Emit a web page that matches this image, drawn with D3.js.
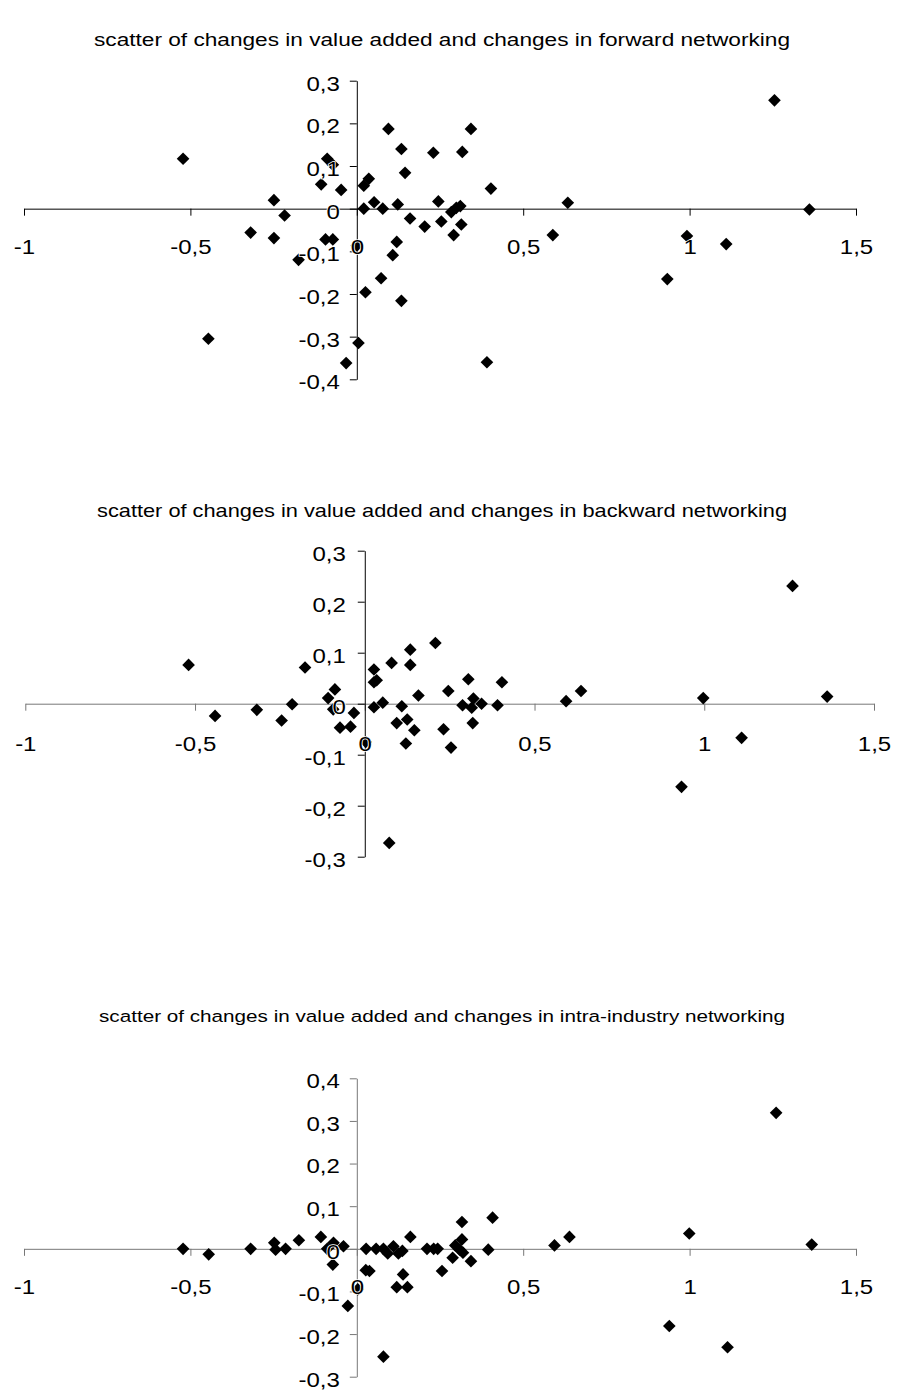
<!DOCTYPE html>
<html>
<head>
<meta charset="utf-8">
<script src="https://cdn.jsdelivr.net/npm/d3@7"></script>
<style>
body { margin: 0; background: #fff; }
svg text { font-family: "Liberation Sans", Arial, sans-serif; fill: #000; }
</style>
</head>
<body>
<svg width="897" height="1392"></svg>
<script>
// three scatters: change in value added (x) vs change in networking (y)

const titles = [
	'scatter of changes in value added and changes in forward networking',
	'scatter of changes in value added and changes in backward networking',
	'scatter of changes in value added and changes in intra-industry networking'
];

const xTicks = [-1, -0.5, 0, 0.5, 1, 1.5];
const yTicksFwd = [-0.4, -0.3, -0.2, -0.1, 0, 0.1, 0.2, 0.3];
const yTicksBwd = [-0.3, -0.2, -0.1, 0, 0.1, 0.2, 0.3];
const yTicksIntra = [-0.3, -0.2, -0.1, 0, 0.1, 0.2, 0.3, 0.4];

// forward networking
const fwdX = [-0.522, -0.446, -0.319, -0.249, -0.249, -0.217, -0.175, -0.107, -0.089, -0.072, -0.047, -0.094, -0.072,
	-0.032, 0.005, 0.021, 0.021, 0.036, 0.026, 0.052, 0.078, 0.073, 0.095, 0.108, 0.120, 0.123, 0.134, 0.134, 0.145,
	0.160, 0.204, 0.230, 0.245, 0.254, 0.291, 0.284, 0.299, 0.311, 0.314, 0.317, 0.343, 0.403, 0.391, 0.589, 0.634,
	0.933, 0.992, 1.110, 1.255, 1.360, 0.0];
const fwdY = [0.117, -0.305, -0.056, 0.020, -0.069, -0.016, -0.120, 0.057, 0.117, 0.103, 0.044, -0.072, -0.072,
	-0.362, -0.315, 0.0, 0.054, 0.070, -0.196, 0.015, 0.0, -0.163, 0.187, -0.109, -0.078, 0.010, 0.140, -0.216, 0.084,
	-0.023, -0.042, 0.131, 0.017, -0.030, -0.062, -0.008, 0.002, 0.006, -0.037, 0.133, 0.187, 0.047, -0.360, -0.062, 0.014,
	-0.165, -0.064, -0.083, 0.254, -0.002, -0.087];

// backward networking
const bwdX = [-0.519, -0.441, -0.318, -0.245, -0.214, -0.176, -0.108, -0.088, -0.093, -0.073, -0.042, -0.032, 0.003,
	0.027, 0.027, 0.035, 0.027, 0.053, 0.079, 0.072, 0.109, 0.094, 0.125, 0.146, 0.121, 0.134, 0.134, 0.158, 0.208,
	0.246, 0.232, 0.254, 0.305, 0.288, 0.315, 0.320, 0.318, 0.344, 0.391, 0.404, 0.593, 0.637, 0.933, 0.997, 1.110,
	1.260, 1.362];
const bwdY = [0.076, -0.024, -0.012, -0.033, -0.001, 0.071, 0.011, 0.028, -0.011, -0.047, -0.045, -0.018, -0.075,
	0.067, 0.042, 0.046, -0.007, 0.002, 0.080, -0.273, -0.005, -0.038, -0.031, -0.052, -0.078, 0.106, 0.076, 0.016, 0.119,
	0.025, -0.050, -0.086, 0.048, -0.003, -0.008, 0.010, -0.038, 0.0, -0.003, 0.042, 0.005, 0.025, -0.163, 0.011, -0.067,
	0.231, 0.014];

// intra-industry networking
const intraX = [-0.522, -0.445, -0.319, -0.248, -0.244, -0.214, -0.174, -0.108, -0.089, -0.070, -0.072, -0.040, -0.027,
	0.003, 0.028, 0.027, 0.038, 0.058, 0.080, 0.093, 0.110, 0.125, 0.137, 0.080, 0.139, 0.120, 0.152, 0.161, 0.211,
	0.231, 0.243, 0.256, 0.288, 0.296, 0.309, 0.316, 0.316, 0.319, 0.343, 0.395, 0.408, 0.594, 0.639, 0.939, 0.999,
	1.114, 1.260, 1.367];
const intraY = [0.0, -0.013, 0.0, 0.014, -0.002, 0.0, 0.020, 0.028, 0.0, 0.014, -0.037, 0.006, -0.134,
	-0.095, 0.0, -0.050, -0.052, 0.0, 0.0, -0.011, 0.006, -0.011, -0.005, -0.253, -0.060, -0.090, -0.090, 0.028, 0.0,
	0.0, 0.0, -0.052, -0.021, 0.008, -0.002, 0.022, 0.063, -0.009, -0.029, -0.002, 0.073, 0.008, 0.028, -0.181, 0.036,
	-0.231, 0.319, 0.010];

const svg = d3.select('svg');

// comma as decimal mark
const fmt = (d) => String(+d.toFixed(2)).replace('.', ',');

// text in the original is a bit wider than Arial
const stretch = (sel, k) => sel.each(function() {
	const len = this.getComputedTextLength();
	d3.select(this).attr('textLength', len * k).attr('lengthAdjust', 'spacingAndGlyphs');
});

function drawChart(c) {
	const x = d3.scaleLinear().domain([-1, 1.5]).range(c.xRange);
	const y = d3.scaleLinear().domain(d3.extent(c.yTicks)).range(c.yRange);
	const g = svg.append('g');

	// title
	g.append('text')
		.attr('x', 442)
		.attr('y', c.titleY)
		.attr('text-anchor', 'middle')
		.attr('textLength', c.titleW)
		.attr('lengthAdjust', 'spacingAndGlyphs')
		.style('font-size', c.titleSize + 'px')
		.text(c.title);

	const xAxis = d3.axisBottom(x).tickValues(xTicks).tickSize(7).tickSizeOuter(0).tickPadding(c.xPad).tickFormat(fmt);
	const yAxis = d3.axisLeft(y).tickValues(c.yTicks).tickSize(7).tickSizeOuter(0).tickPadding(c.yPad).tickFormat(fmt);

	// axis lines under the markers
	const gx = g.append('g').attr('transform', `translate(0,${y(0)})`).call(xAxis);
	const gy = g.append('g').attr('transform', `translate(${x(0)},0)`).call(yAxis);
	gx.selectAll('text').remove();
	gy.selectAll('text').remove();
	gx.selectAll('path, line').attr('stroke', c.xColor);
	gy.selectAll('path, line').attr('stroke', c.yColor);

	// markers
	g.append('g')
		.selectAll('path')
		.data(c.xs.map((v, i) => [ v, c.ys[i] ]))
		.enter()
		.append('path')
		.attr('d', d3.symbol(d3.symbolSquare, 80))
		.attr('transform', (d) => `translate(${x(d[0])},${y(d[1])}) rotate(45)`)
		.attr('fill', '#000');

	// tick labels on top
	const lx = g.append('g').attr('transform', `translate(0,${y(0)})`).call(xAxis);
	const ly = g.append('g').attr('transform', `translate(${x(0)},0)`).call(yAxis);
	lx.selectAll('path, line').remove();
	ly.selectAll('path, line').remove();
	ly.selectAll('text').attr('y', 3);
	const labels = g.selectAll('.tick text')
		.style('font-size', '20px')
		.attr('stroke', '#fff')
		.attr('stroke-width', 1.5)
		.attr('paint-order', 'stroke');
	stretch(labels, 1.2);
}

drawChart({
	title: titles[0], xs: fwdX, ys: fwdY, yTicks: yTicksFwd,
	xRange: [ 24, 856 ], yRange: [ 379.3, 80.7 ], titleY: 46, titleW: 696, titleSize: 18.9,
	xPad: 24, yPad: 10, xColor: '#000', yColor: '#000'
});
drawChart({
	title: titles[1], xs: bwdX, ys: bwdY, yTicks: yTicksBwd,
	xRange: [ 25.3, 874 ], yRange: [ 856.7, 550.7 ], titleY: 517, titleW: 690, titleSize: 18.2,
	xPad: 26, yPad: 12, xColor: '#777', yColor: '#000'
});
drawChart({
	title: titles[2], xs: intraX, ys: intraY, yTicks: yTicksIntra,
	xRange: [ 24, 856 ], yRange: [ 1376.7, 1078.3 ], titleY: 1022, titleW: 686, titleSize: 17.2,
	xPad: 24, yPad: 10, xColor: '#777', yColor: '#777'
});
</script>
</body>
</html>
